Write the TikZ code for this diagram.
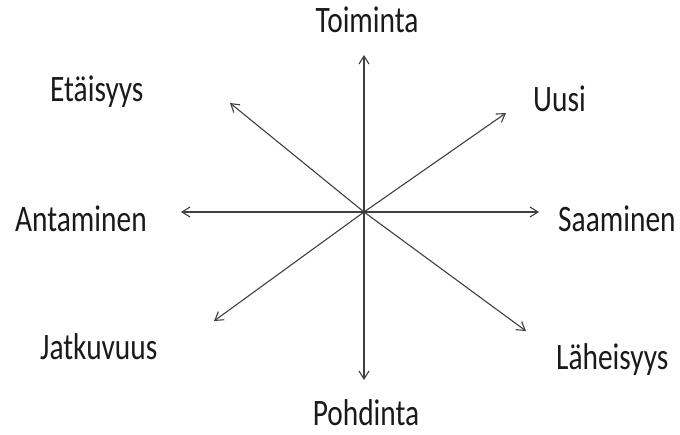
\documentclass[tikz,border=0pt]{standalone}
\usepackage{fontspec}
\setmainfont{Carlito}
\usetikzlibrary{arrows.meta}
\definecolor{linegray}{HTML}{404040}
\definecolor{textgray}{HTML}{1A1A1A}
\tikzset{
  axis/.style={draw=linegray, line width=1.1pt, -{Straight Barb[length=8pt,width=10pt,line width=1.1pt]}},
  lbl/.style={inner sep=0pt, text=textgray, font=\fontsize{29.4}{35}\selectfont}
}
\newcommand{\tall}[1]{\scalebox{1}[1.27]{#1}}
\begin{document}
\begin{tikzpicture}[x=1pt,y=-1pt]
\useasboundingbox[fill=white] (0,0) rectangle (680,434);
\coordinate (c) at (364,212);
\coordinate (tN) at (364,55);
\coordinate (tS) at (364,380);
\coordinate (tW) at (181,212);
\coordinate (tE) at (539,212);
\coordinate (tNW) at (230,103);
\coordinate (tNE) at (506,113);
\coordinate (tSW) at (214,321);
\coordinate (tSE) at (526,331);
\foreach \t in {tN,tS,tW,tE,tNW,tNE,tSW,tSE} \draw[axis] (c) -- (\t);
\node[lbl, anchor=base] (toim) at (367,32) {\tall{Toiminta}};
\node[lbl, anchor=base] (pohd) at (366,425) {\tall{Pohdinta}};
\node[lbl, anchor=base west] (etai) at (50,101) {\tall{Etäisyys}};
\node[lbl, anchor=base west] (anta) at (15,231) {\tall{Antaminen}};
\node[lbl, anchor=base west] (jatk) at (40,359) {\tall{Jatkuvuus}};
\node[lbl, anchor=base west] (uusi) at (533,111) {\tall{Uusi}};
\node[lbl, anchor=base west] (saam) at (558,231) {\tall{Saaminen}};
\node[lbl, anchor=base west] (lahe) at (556,369) {\tall{Läheisyys}};
\end{tikzpicture}
\end{document}
